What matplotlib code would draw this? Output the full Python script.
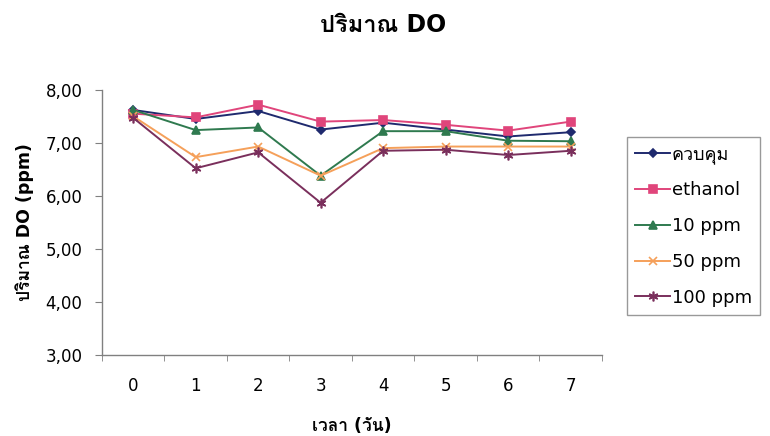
import matplotlib
matplotlib.use("Agg")
import matplotlib.pyplot as plt
from matplotlib.ticker import FuncFormatter, FixedLocator

# wide Latin glyphs, Thai falls back to Loma
plt.rcParams["font.family"] = ["DejaVu Sans", "Loma"]

days = [0, 1, 2, 3, 4, 5, 6, 7]
control = [7.62, 7.45, 7.60, 7.25, 7.38, 7.25, 7.12, 7.20]
ethanol = [7.55, 7.48, 7.72, 7.40, 7.43, 7.34, 7.23, 7.40]
ppm10 = [7.62, 7.24, 7.29, 6.38, 7.22, 7.22, 7.04, 7.03]
ppm50 = [7.50, 6.73, 6.93, 6.38, 6.90, 6.93, 6.93, 6.93]
ppm100 = [7.47, 6.52, 6.82, 5.87, 6.85, 6.87, 6.77, 6.85]

labels = ["ควบคุม", "ethanol", "10 ppm", "50 ppm", "100 ppm"]
series = [control, ethanol, ppm10, ppm50, ppm100]
colors = ["#1f2a6e", "#e0457b", "#2f7a4f", "#f5a05a", "#7a2f5c"]
markers = ["D", "s", "^", "x", (6, 2, 0)]
msizes = [4.5, 6, 6, 6, 7]

fig = plt.figure(figsize=(7.7, 4.36), dpi=100)
ax = fig.add_axes([0.1325, 0.186, 0.649, 0.608])

for vals, lab, c, m, ms in zip(series, labels, colors, markers, msizes):
    ax.plot(days, vals, color=c, lw=1.4, marker=m, ms=ms, mfc=c, mec=c,
            mew=1.2, label=lab)

ax.set_xlim(-0.5, 7.5)
ax.set_ylim(3, 8)
ax.set_yticks([3, 4, 5, 6, 7, 8])
ax.yaxis.set_major_formatter(FuncFormatter(lambda v, p: f"{v:.2f}".replace(".", ",")))
ax.set_xticks(days)
ax.xaxis.set_minor_locator(FixedLocator([d - 0.5 for d in days] + [7.5]))
ax.tick_params(axis="x", which="major", length=0, pad=16, labelsize=12)
ax.tick_params(axis="x", which="minor", length=4, direction="out", color="#808080")
ax.tick_params(axis="y", length=5, direction="out", color="#808080", pad=9, labelsize=12)

for s in ["top", "right"]:
    ax.spines[s].set_visible(False)
for s in ["left", "bottom"]:
    ax.spines[s].set_color("#808080")
    ax.spines[s].set_linewidth(1.0)

ax.set_ylabel("ปริมาณ DO (ppm)", fontsize=12.5, fontweight="bold", labelpad=8)
ax.set_xlabel("เวลา (วัน)", fontsize=12.5, fontweight="bold", labelpad=16)
fig.text(0.497, 0.943, "ปริมาณ DO", ha="center", va="center",
         fontsize=17, fontweight="bold")

leg = ax.legend(loc="upper left", bbox_to_anchor=(0.814, 0.686),
                bbox_transform=fig.transFigure, fontsize=13, frameon=True,
                fancybox=False, edgecolor="#808080", handlelength=1.95,
                handletextpad=0.1, labelspacing=0.98, borderpad=0.45,
                borderaxespad=0)
leg.get_frame().set_linewidth(1.0)

fig.savefig("out.png", dpi=100)
